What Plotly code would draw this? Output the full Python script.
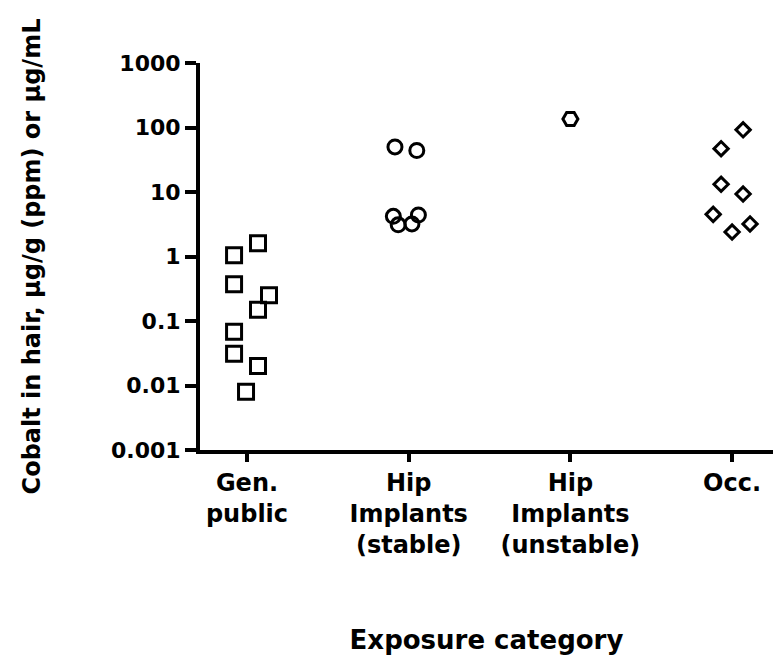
import plotly.graph_objects as go

# ---- data ----
categories = ["Gen.<br>public", "Hip<br>Implants<br>(stable)", "Hip<br>Implants<br>(unstable)", "Occ."]

gen_public = [1.6, 1.05, 0.37, 0.25, 0.15, 0.068, 0.031, 0.02, 0.008]
gen_public_jitter = [0.068, -0.08, -0.08, 0.136, 0.068, -0.08, -0.08, 0.068, -0.006]

hip_stable = [50, 44, 4.2, 3.1, 4.4, 3.2]
hip_stable_jitter = [-0.085, 0.05, -0.095, -0.065, 0.06, 0.02]

hip_unstable = [135]
hip_unstable_jitter = [0.0]

occ = [92, 47, 13.2, 9.3, 4.5, 3.2, 2.4]
occ_jitter = [0.068, -0.068, -0.068, 0.068, -0.117, 0.111, 0.0]

y_tickvals = [0.001, 0.01, 0.1, 1, 10, 100, 1000]
y_ticktext = ["0.001", "0.01", "0.1", "1", "10", "100", "1000"]

series = [
    (gen_public, gen_public_jitter, 0, "square-open", 15),
    (hip_stable, hip_stable_jitter, 1, "circle-open", 14),
    (hip_unstable, hip_unstable_jitter, 2, "hexagon2-open", 15),
    (occ, occ_jitter, 3, "diamond-open", 11),
]

FONT = "DejaVu Sans"

fig = go.Figure()
for vals, jit, idx, sym, sz in series:
    fig.add_trace(go.Scatter(
        x=[idx + j for j in jit],
        y=vals,
        mode="markers",
        marker=dict(symbol=sym, size=sz, color="black", line=dict(width=3, color="black")),
        showlegend=False,
        hoverinfo="skip",
    ))

fig.update_layout(
    width=773, height=663,
    margin=dict(l=200, r=0, t=63, b=213),
    paper_bgcolor="white", plot_bgcolor="white",
    font=dict(family=FONT, color="black", weight="bold"),
)

fig.update_xaxes(
    range=[-0.2907, 3.253],
    tickvals=list(range(len(categories))),
    ticktext=categories,
    ticks="outside", ticklen=8, tickwidth=4, tickcolor="black",
    showline=True, linewidth=4, linecolor="black",
    showgrid=False, zeroline=False,
    tickfont=dict(family=FONT, size=24, weight="bold"),
    title=dict(text="Exposure category", font=dict(family=FONT, size=26, weight="bold"), standoff=74),
)

fig.update_yaxes(
    type="log", range=[-3, 3],
    tickvals=y_tickvals, ticktext=y_ticktext,
    ticks="outside", ticklen=11, tickwidth=4, tickcolor="black",
    showline=True, linewidth=4, linecolor="black",
    showgrid=False, zeroline=False,
    tickfont=dict(family=FONT, size=22, weight="bold"),
    title=dict(text="Cobalt in hair, µg/g (ppm) or µg/mL", font=dict(family=FONT, size=24, weight="bold"), standoff=65),
)

fig.write_html("out.html")
